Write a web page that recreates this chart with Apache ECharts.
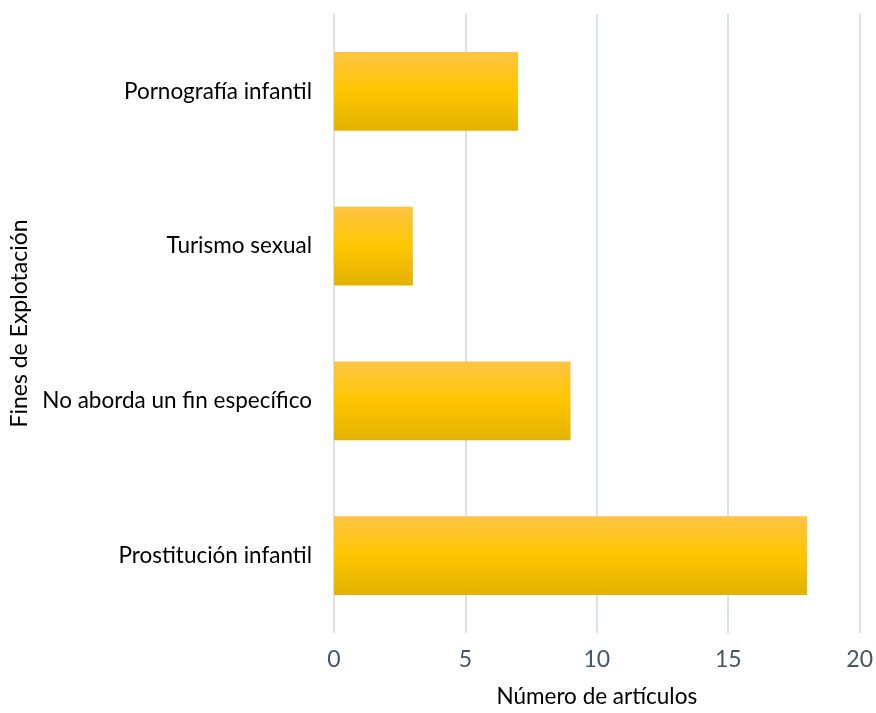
<!DOCTYPE html>
<html><head><meta charset="utf-8">
<script src="https://cdn.jsdelivr.net/npm/echarts@6/dist/echarts.min.js"></script>
<style>html,body{margin:0;padding:0;background:#fff}#c{width:876px;height:713px}</style>
</head><body><div id="c"></div>
<script>
const categories = ['Prostitución infantil', 'No aborda un fin específico', 'Turismo sexual', 'Pornografía infantil'];
const values = [18, 9, 3, 7];
const xTicks = [0, 5, 10, 15, 20];
const chart = echarts.init(document.getElementById('c'));
const font = 'Lato, Open Sans, sans-serif';
chart.setOption({
  animation: false,
  grid: {left: 334, right: 14, top: 14, bottom: 73},
  xAxis: {
    type: 'value', min: xTicks[0], max: xTicks[xTicks.length-1], interval: 5,
    name: 'Número de artículos', nameLocation: 'middle', nameGap: 52,
    nameTextStyle: {color: '#000', fontSize: 22.5, fontFamily: font},
    axisLine: {show: false}, axisTick: {show: false},
    axisLabel: {color: '#44546a', fontSize: 23, fontFamily: font, margin: 15},
    splitLine: {lineStyle: {color: '#dde1e8', width: 2}}
  },
  yAxis: {
    type: 'category', data: categories,
    name: 'Fines de Explotación', nameLocation: 'middle', nameGap: 288, nameRotate: 90,
    nameTextStyle: {color: '#000', fontSize: 23, fontFamily: font},
    axisLine: {show: false}, axisTick: {show: false},
    axisLabel: {color: '#000', fontSize: 22.5, fontFamily: font, margin: 22}
  },
  series: [{
    type: 'bar', data: values, barWidth: '51%',
    itemStyle: {color: new echarts.graphic.LinearGradient(0, 0, 0, 1, [
      {offset: 0, color: '#ffc444'}, {offset: 0.5, color: '#ffc600'}, {offset: 1, color: '#e2b200'}
    ])}
  }]
});
</script></body></html>
